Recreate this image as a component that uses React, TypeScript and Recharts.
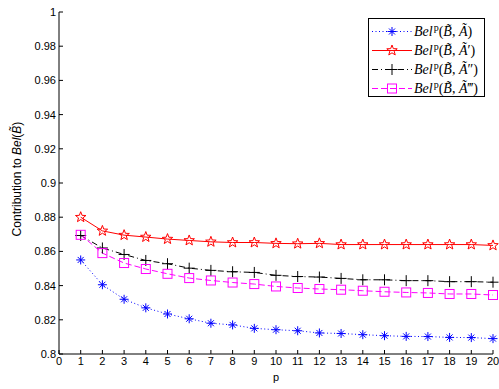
import { Legend, Line, LineChart, XAxis, YAxis } from 'recharts'

const pValues = [1, 2, 3, 4, 5, 6, 7, 8, 9, 10, 11, 12, 13, 14, 15, 16, 17, 18, 19, 20]
const belA = [0.855, 0.8405, 0.832, 0.827, 0.8234, 0.8206, 0.818, 0.817, 0.815, 0.8142, 0.8136, 0.8123, 0.812, 0.8113, 0.8107, 0.8103, 0.8102, 0.8097, 0.8096, 0.809]
const belA1 = [0.88, 0.872, 0.8695, 0.8684, 0.8672, 0.8664, 0.8656, 0.8652, 0.8652, 0.8647, 0.8645, 0.8647, 0.864, 0.864, 0.864, 0.864, 0.864, 0.864, 0.864, 0.8635]
const belA2 = [0.8693, 0.862, 0.8582, 0.8547, 0.8528, 0.8502, 0.8489, 0.8481, 0.8477, 0.846, 0.8453, 0.845, 0.8442, 0.8434, 0.8434, 0.8429, 0.8429, 0.8423, 0.8423, 0.842]
const belA3 = [0.8697, 0.859, 0.8532, 0.8497, 0.8469, 0.8444, 0.843, 0.8418, 0.8409, 0.8395, 0.8386, 0.838, 0.8376, 0.837, 0.8364, 0.836, 0.8357, 0.8351, 0.8351, 0.8345]
const xTicks = [0, 1, 2, 3, 4, 5, 6, 7, 8, 9, 10, 11, 12, 13, 14, 15, 16, 17, 18, 19, 20]
const yTicks = [0.8, 0.82, 0.84, 0.86, 0.88, 0.9, 0.92, 0.94, 0.96, 0.98, 1]

const data = pValues.map((p, i) => ({ p, a: belA[i], a1: belA1[i], a2: belA2[i], a3: belA3[i] }))

const tickFont = { fill: '#000', fontSize: 11, fontFamily: '"Liberation Sans", Arial, sans-serif' }

type MarkerFn = (cx: number, cy: number, color: string) => JSX.Element

const asterisk: MarkerFn = (cx, cy, color) => (
  <g stroke={color} strokeWidth={1}>
    <line x1={cx - 4.5} x2={cx + 4.5} y1={cy} y2={cy} />
    <line x1={cx} x2={cx} y1={cy - 4.5} y2={cy + 4.5} />
    <line x1={cx - 3} x2={cx + 3} y1={cy - 3} y2={cy + 3} />
    <line x1={cx - 3} x2={cx + 3} y1={cy + 3} y2={cy - 3} />
  </g>
)

const star: MarkerFn = (cx, cy, color) => {
  const pts: string[] = []
  for (let k = 0; k < 10; k++) {
    const r = k % 2 === 0 ? 5.5 : 2.3
    const ang = -Math.PI / 2 + (k * Math.PI) / 5
    pts.push(`${cx + r * Math.cos(ang)},${cy + r * Math.sin(ang)}`)
  }
  return <polygon points={pts.join(' ')} fill="none" stroke={color} strokeWidth={1} />
}

const plus: MarkerFn = (cx, cy, color) => (
  <g stroke={color} strokeWidth={1}>
    <line x1={cx - 5.5} x2={cx + 5.5} y1={cy} y2={cy} />
    <line x1={cx} x2={cx} y1={cy - 5.5} y2={cy + 5.5} />
  </g>
)

const square: MarkerFn = (cx, cy, color) => (
  <rect x={cx - 4.5} y={cy - 4.5} width={9} height={9} fill="none" stroke={color} strokeWidth={1} />
)

const SERIES = [
  { key: 'a', color: '#0000ff', dash: '1 2.5', marker: asterisk, prime: '' },
  { key: 'a1', color: '#ff0000', dash: undefined, marker: star, prime: '\u2032' },
  { key: 'a2', color: '#000000', dash: '6 3 1 3', marker: plus, prime: '\u2033' },
  { key: 'a3', color: '#ff00ff', dash: '6 3', marker: square, prime: '\u2034' },
]

function LegendBox() {
  return (
    <div
      style={{
        width: 117,
        height: 79,
        boxSizing: 'border-box',
        border: '1px solid #000',
        background: '#fff',
        paddingTop: 3,
        fontFamily: '"Liberation Serif", "Times New Roman", serif',
        fontSize: 14,
        color: '#000',
      }}
    >
      {SERIES.map((s) => (
        <div key={s.key} style={{ display: 'flex', alignItems: 'center', height: 19 }}>
          <svg width={45} height={19} style={{ flexShrink: 0 }}>
            <line x1={3} x2={43} y1={9.5} y2={9.5} stroke={s.color} strokeDasharray={s.dash} />
            {s.marker(23, 9.5, s.color)}
          </svg>
          <span style={{ whiteSpace: 'nowrap', lineHeight: '19px' }}>
            <i>Bel</i>
            <span style={{ fontSize: 10, verticalAlign: 5, lineHeight: 0, paddingLeft: 1 }}>p</span>
            (<i>{'B\u0303'}</i>, <i>{'A\u0303'}</i>
            {s.prime})
          </span>
        </div>
      ))}
    </div>
  )
}

function YLabel({ viewBox }: { viewBox?: { x: number; y: number; width: number; height: number } }) {
  if (!viewBox) return null
  const x = viewBox.x + 12
  const y = viewBox.y + viewBox.height / 2 - 4
  return (
    <text
      transform={`translate(${x},${y}) rotate(-90)`}
      textAnchor="middle"
      fontSize={12}
      fontFamily='"Liberation Sans", Arial, sans-serif'
      fill="#000"
    >
      Contribution to <tspan fontStyle="italic">Bel</tspan>(<tspan fontStyle="italic">{'B\u0303'}</tspan>)
    </text>
  )
}

export default function App() {
  return (
    <div style={{ position: 'absolute', left: 0, top: 0, width: 499, height: 389, background: '#fff' }}>
      <LineChart width={499} height={389} data={data} margin={{ top: 12, right: 6, bottom: 9, left: 9 }}>
        <XAxis
          dataKey="p"
          type="number"
          domain={[0, 20]}
          ticks={xTicks}
          interval={0}
          tickSize={-4}
          tickMargin={7}
          height={26}
          axisLine={{ stroke: '#000' }}
          tickLine={{ stroke: '#000' }}
          tick={tickFont}
          label={{ value: 'p', position: 'insideBottom', offset: -1, ...tickFont }}
        />
        <XAxis
          xAxisId="top"
          orientation="top"
          type="number"
          domain={[0, 20]}
          ticks={xTicks}
          interval={0}
          tick={false}
          tickSize={-4}
          height={0}
          axisLine={{ stroke: '#000' }}
          tickLine={{ stroke: '#000' }}
        />
        <YAxis
          type="number"
          domain={[0.8, 1]}
          ticks={yTicks}
          interval={0}
          tickSize={-4}
          tickMargin={7}
          width={50}
          axisLine={{ stroke: '#000' }}
          tickLine={{ stroke: '#000' }}
          tick={tickFont}
          tickFormatter={(v: number) => String(Number(v.toFixed(2)))}
          label={<YLabel />}
        />
        <YAxis
          yAxisId="right"
          orientation="right"
          type="number"
          domain={[0.8, 1]}
          ticks={yTicks}
          interval={0}
          tick={false}
          tickSize={-4}
          width={0}
          axisLine={{ stroke: '#000' }}
          tickLine={{ stroke: '#000' }}
        />
        <Legend
          layout="vertical"
          align="center"
          verticalAlign="middle"
          content={() => <LegendBox />}
          wrapperStyle={{ position: 'absolute', left: 368, top: 18, width: 117, height: 79 }}
        />
        {SERIES.map((s) => (
          <Line
            key={s.key}
            dataKey={s.key}
            type="linear"
            stroke={s.color}
            strokeWidth={1}
            strokeDasharray={s.dash}
            dot={(props: any) => <g key={`${s.key}-${props.index}`}>{s.marker(props.cx, props.cy, s.color)}</g>}
            activeDot={false}
            isAnimationActive={false}
          />
        ))}
      </LineChart>
    </div>
  )
}
